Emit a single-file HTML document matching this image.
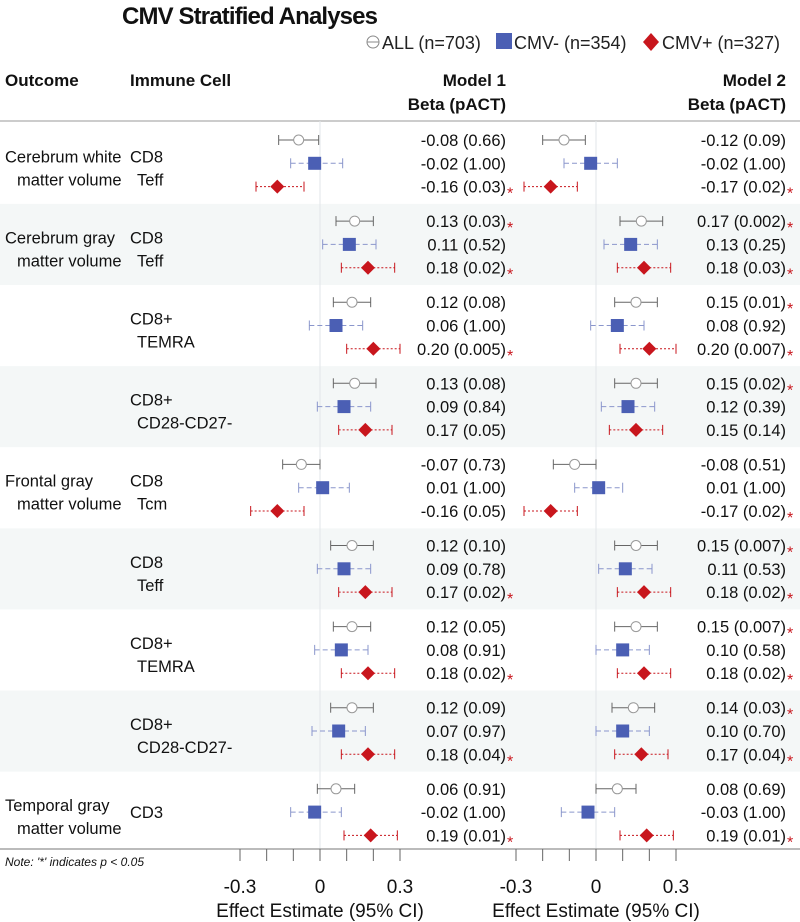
<!DOCTYPE html>
<html><head><meta charset="utf-8"><style>
html,body{margin:0;padding:0;background:#fff}
svg{display:block;font-family:"Liberation Sans",Arial,sans-serif}
</style></head><body>
<svg id="chart" width="800" height="922" viewBox="0 0 800 922">
<g id="bands"></g>
<text x="122" y="24" font-size="24" font-weight="bold" fill="#111" textLength="256">CMV Stratified Analyses</text>
<g font-size="18" fill="#222">
 <g><circle cx="373" cy="42" r="6" fill="none" stroke="#888"/><line x1="367" y1="42" x2="379" y2="42" stroke="#888"/><text x="382" y="49">ALL (n=703)</text></g>
 <g><rect x="496" y="33" width="16" height="16" fill="#4b5fb4"/><text x="514" y="49">CMV- (n=354)</text></g>
 <g><path d="M651 33 L659 42 L651 51 L643 42Z" fill="#c8161d"/><text x="662" y="49">CMV+ (n=327)</text></g>
</g>
<g font-weight="bold" font-size="17" fill="#111">
 <text x="5" y="86">Outcome</text>
 <text x="130" y="86">Immune Cell</text>
 <text x="506" y="86" text-anchor="end">Model 1</text>
 <text x="506" y="110" text-anchor="end">Beta (pACT)</text>
 <text x="786" y="86" text-anchor="end">Model 2</text>
 <text x="786" y="110" text-anchor="end">Beta (pACT)</text>
</g>
<line x1="0" y1="121" x2="800" y2="121" stroke="#999"/>
<g id="labels" font-size="16.5" fill="#111"></g>
<g id="plots"></g>
<line x1="0" y1="849" x2="800" y2="849" stroke="#777"/>
<text x="5" y="866" font-size="12" font-style="italic" fill="#111">Note: '*' indicates p &lt; 0.05</text>
<g id="axes"></g>
</svg>
<script>
const groupOutcomes=[["Cerebrum white","matter volume"],["Cerebrum gray","matter volume"],["",""],["",""],["Frontal gray","matter volume"],["",""],["",""],["",""],["Temporal gray","matter volume"]];
const groupCells=[["CD8","Teff"],["CD8","Teff"],["CD8+","TEMRA"],["CD8+","CD28-CD27-"],["CD8","Tcm"],["CD8","Teff"],["CD8+","TEMRA"],["CD8+","CD28-CD27-"],["CD3",""]];
const m1Est=[[-0.08,-0.02,-0.16],[0.13,0.11,0.18],[0.12,0.06,0.20],[0.13,0.09,0.17],[-0.07,0.01,-0.16],[0.12,0.09,0.17],[0.12,0.08,0.18],[0.12,0.07,0.18],[0.06,-0.02,0.19]];
const m1Lo=[[-0.155,-0.11,-0.24],[0.06,0.01,0.08],[0.05,-0.04,0.10],[0.05,-0.01,0.07],[-0.14,-0.08,-0.26],[0.04,-0.01,0.07],[0.05,-0.02,0.08],[0.04,-0.03,0.08],[-0.01,-0.11,0.09]];
const m1Hi=[[-0.005,0.085,-0.06],[0.20,0.21,0.28],[0.19,0.16,0.30],[0.21,0.19,0.27],[0.00,0.11,-0.06],[0.20,0.19,0.27],[0.19,0.18,0.28],[0.20,0.17,0.28],[0.13,0.08,0.29]];
const m1P=[["0.66","1.00","0.03"],["0.03","0.52","0.02"],["0.08","1.00","0.005"],["0.08","0.84","0.05"],["0.73","1.00","0.05"],["0.10","0.78","0.02"],["0.05","0.91","0.02"],["0.09","0.97","0.04"],["0.91","1.00","0.01"]];
const m1Sig=[[0,0,1],[1,0,1],[0,0,1],[0,0,0],[0,0,0],[0,0,1],[0,0,1],[0,0,1],[0,0,1]];
const m2Est=[[-0.12,-0.02,-0.17],[0.17,0.13,0.18],[0.15,0.08,0.20],[0.15,0.12,0.15],[-0.08,0.01,-0.17],[0.15,0.11,0.18],[0.15,0.10,0.18],[0.14,0.10,0.17],[0.08,-0.03,0.19]];
const m2Lo=[[-0.20,-0.12,-0.27],[0.09,0.03,0.08],[0.07,-0.02,0.09],[0.07,0.02,0.05],[-0.16,-0.08,-0.27],[0.07,0.01,0.08],[0.07,0.00,0.08],[0.06,0.00,0.07],[0.00,-0.13,0.09]];
const m2Hi=[[-0.04,0.08,-0.07],[0.25,0.23,0.28],[0.23,0.18,0.30],[0.23,0.22,0.25],[0.00,0.10,-0.07],[0.23,0.21,0.28],[0.23,0.20,0.28],[0.22,0.20,0.27],[0.15,0.07,0.29]];
const m2P=[["0.09","1.00","0.02"],["0.002","0.25","0.03"],["0.01","0.92","0.007"],["0.02","0.39","0.14"],["0.51","1.00","0.02"],["0.007","0.53","0.02"],["0.007","0.58","0.02"],["0.03","0.70","0.04"],["0.69","1.00","0.01"]];
const m2Sig=[[0,0,1],[1,0,1],[1,0,1],[1,0,0],[0,0,1],[1,0,1],[1,0,1],[1,0,1],[0,0,1]];
const tickVals=[-0.3,-0.2,-0.1,0,0.1,0.2,0.3];
const tickLabels=["-0.3","0","0.3"];
const tickLabelVals=[-0.3,0,0.3];
const seriesNames=["all","cmv-neg","cmv-pos"];

const NS="http://www.w3.org/2000/svg";
function mk(tag,attrs,parent,text){const e=document.createElementNS(NS,tag);for(const k in attrs)e.setAttribute(k,attrs[k]);if(text!==undefined)e.textContent=text;parent.appendChild(e);return e;}
const x1=v=>320+v*266.7, x2=v=>596+v*266.7;
const G0=140, GS=81.1, RS=23.3;
const rowY=(g,r)=>G0+g*GS+r*RS;
const bands=document.getElementById('bands'),labels=document.getElementById('labels'),plots=document.getElementById('plots'),axes=document.getElementById('axes');
for(let g=0;g<9;g++){
  if(g%2===1){const b=mk('rect',{x:0,y:rowY(g,1)-40.5,width:800,height:GS,fill:"#f4f7f7"},bands);
    
    }
  const o=groupOutcomes[g],c=groupCells[g],cy=rowY(g,1);
  if(o[0]){let t=mk('text',{x:5,y:cy-1},labels,o[0]);
    t=mk('text',{x:17,y:cy+22},labels,o[1]);}
  const one=!c[1];
  let t=mk('text',{x:130,y:one?cy+6:cy-1},labels,c[0]);
  if(c[1]){t=mk('text',{x:137,y:cy+22},labels,c[1]);}
}
[x1(0),x2(0)].forEach(x=>{const l=mk('line',{x1:x,y1:121,x2:x,y2:849,stroke:"#e2e6e8"},plots);
  
  });
const styles=[{c:"#666",d:""},{c:"#8a96cc",d:"5,3"},{c:"#c8161d",d:"2,2"}];
function drawModel(xf,est,lo,hi,p,sig,tx,sx,name){
  for(let g=0;g<9;g++)for(let s=0;s<3;s++){
    const y=rowY(g,s),st=styles[s];
    const grp=mk('g',{},plots);
    
    
    mk('line',{x1:xf(lo[g][s]),y1:y,x2:xf(hi[g][s]),y2:y,stroke:st.c,'stroke-dasharray':st.d},grp);
    mk('line',{x1:xf(lo[g][s]),y1:y-5,x2:xf(lo[g][s]),y2:y+5,stroke:st.c},grp);
    mk('line',{x1:xf(hi[g][s]),y1:y-5,x2:xf(hi[g][s]),y2:y+5,stroke:st.c},grp);
    const cx=xf(est[g][s]);
    if(s===0)mk('circle',{cx:cx,cy:y,r:5,fill:"#fff",stroke:"#999"},grp);
    else if(s===1)mk('rect',{x:cx-6.5,y:y-6.5,width:13,height:13,fill:"#4b5fb4"},grp);
    else mk('path',{d:`M${cx} ${y-7}L${cx+7} ${y}L${cx} ${y+7}L${cx-7} ${y}Z`,fill:"#c8161d"},grp);
    const v=est[g][s].toFixed(2);
    const t=mk('text',{x:tx,y:y+6,'font-size':16.5,fill:"#111",'text-anchor':"end"},plots,v+" ("+p[g][s]+")");
    
    
    if(sig[g][s]){const a=mk('text',{x:sx,y:y+12,'font-size':16,fill:"#c8161d"},plots,"*");
      
      }
  }
}
drawModel(x1,m1Est,m1Lo,m1Hi,m1P,m1Sig,506,507,"model1");
drawModel(x2,m2Est,m2Lo,m2Hi,m2P,m2Sig,786,787,"model2");
[[x1,"model1"],[x2,"model2"]].forEach(([xf,n])=>{
  tickVals.forEach(v=>{const l=mk('line',{x1:xf(v),y1:849,x2:xf(v),y2:861,stroke:"#666"},axes);
    
    });
  tickLabelVals.forEach((v,i)=>{const t=mk('text',{x:xf(v),y:893,'font-size':19,fill:"#111",'text-anchor':"middle"},axes,tickLabels[i]);
    
    });
  const t=mk('text',{x:xf(0),y:917,'font-size':19,fill:"#111",'text-anchor':"middle"},axes,"Effect Estimate (95% CI)");
  
  
});
</script>
</body></html>
